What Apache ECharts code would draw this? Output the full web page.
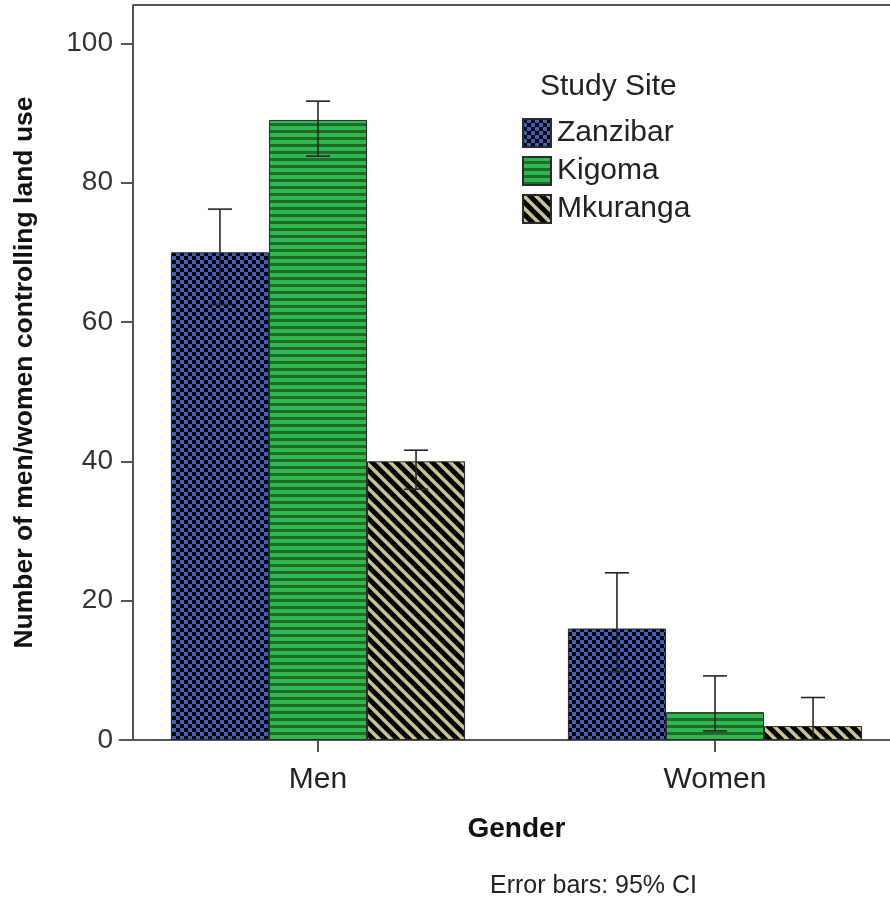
<!DOCTYPE html>
<html>
<head>
<meta charset="utf-8">
<title>Land use control by gender and study site</title>
<script src="https://cdn.jsdelivr.net/npm/echarts@6/dist/echarts.min.js"></script>
<style>
  html, body { margin: 0; padding: 0; background: #fff; }
  #chart { width: 890px; height: 898px; }
</style>
</head>
<body>
<div id="chart"></div>
<script>
// Categories and series
const genders = ['Men', 'Women'];
const sites = ['Zanzibar', 'Kigoma', 'Mkuranga'];

// Bar heights per site (Men, Women)
const zanzibarValues = [70, 16];
const kigomaValues = [89, 4];
const mkurangaValues = [40, 2];

// 95% confidence intervals per site: [low, high] for Men, Women
const zanzibarCI = [[62.5, 76.2], [9.8, 24.0]];
const kigomaCI = [[83.8, 91.7], [1.3, 9.2]];
const mkurangaCI = [[36.0, 41.6], [-2.0, 6.1]];

// Y axis ticks
const yTicks = [0, 20, 40, 60, 80, 100];

// ---- Fill patterns ----
function makeCanvas(w, h) {
  const c = document.createElement('canvas');
  c.width = w; c.height = h;
  return c;
}
function checkerPattern() {
  const c = makeCanvas(8, 8), g = c.getContext('2d');
  g.fillStyle = '#000'; g.fillRect(0, 0, 8, 8);
  g.fillStyle = '#3f5fbd';
  g.fillRect(4, 0, 4, 4);
  g.fillRect(0, 4, 4, 4);
  return c;
}
function stripePattern() {
  const c = makeCanvas(7, 7), g = c.getContext('2d');
  g.fillStyle = '#1e6a2f'; g.fillRect(0, 0, 7, 7);
  g.fillStyle = '#2fb84c'; g.fillRect(0, 0, 7, 4);
  return c;
}
function diagonalPattern() {
  const s = 12;
  const c = makeCanvas(s, s), g = c.getContext('2d');
  g.fillStyle = '#000'; g.fillRect(0, 0, s, s);
  g.strokeStyle = '#cbc48d';
  g.lineWidth = 3.5;
  for (let k = -1; k <= 1; k++) {
    g.beginPath();
    g.moveTo(k * s - 2, -2);
    g.lineTo(k * s + s + 2, s + 2);
    g.stroke();
  }
  return c;
}
const fills = [
  { image: checkerPattern(), repeat: 'repeat' },
  { image: stripePattern(), repeat: 'repeat' },
  { image: diagonalPattern(), repeat: 'repeat' }
];

const values = [zanzibarValues, kigomaValues, mkurangaValues];
const cis = [zanzibarCI, kigomaCI, mkurangaCI];

// Each bar takes this share of a category band; bars touch each other
const barShare = 0.247;

const fontFamily = '"Liberation Sans", Arial, sans-serif';

const barSeries = sites.map((name, i) => ({
  name: name,
  type: 'bar',
  barWidth: (barShare * 100) + '%',
  barGap: '0%',
  itemStyle: { color: fills[i], borderColor: '#2a2a2a', borderWidth: 1 },
  emphasis: { disabled: true },
  data: values[i],
  z: 2
}));

// Error bars drawn on top of the bars, shifted to each bar's centre
const errorSeries = sites.map((name, i) => ({
  type: 'custom',
  name: name + ' CI',
  clip: true,
  z: 5,
  silent: true,
  data: cis[i].map((ci, j) => [j, ci[0], ci[1]]),
  renderItem: function (params, api) {
    const band = api.size([1, 0])[0];
    const dx = (i - 1) * band * barShare;
    const lo = api.coord([api.value(0), api.value(1)]);
    const hi = api.coord([api.value(0), api.value(2)]);
    const x = lo[0] + dx;
    const cap = 12;
    const style = { stroke: '#262626', lineWidth: 1.6 };
    return {
      type: 'group',
      children: [
        { type: 'line', shape: { x1: x, y1: lo[1], x2: x, y2: hi[1] }, style: style },
        { type: 'line', shape: { x1: x - cap, y1: hi[1], x2: x + cap, y2: hi[1] }, style: style },
        { type: 'line', shape: { x1: x - cap, y1: lo[1], x2: x + cap, y2: lo[1] }, style: style }
      ]
    };
  }
}));

const chart = echarts.init(document.getElementById('chart'), null, { renderer: 'canvas' });

chart.setOption({
  animation: false,
  backgroundColor: '#ffffff',
  textStyle: { fontFamily: fontFamily },
  title: [
    {
      text: 'Study Site',
      left: 535, top: 67,
      textStyle: { fontSize: 30, fontWeight: 'normal', color: '#222', fontFamily: fontFamily }
    },
    {
      text: 'Error bars: 95% CI',
      left: 485, top: 869,
      textStyle: { fontSize: 25, fontWeight: 'normal', color: '#222', fontFamily: fontFamily }
    }
  ],
  legend: {
    data: sites,
    orient: 'vertical',
    left: 517, top: 113,
    itemWidth: 28, itemHeight: 28, itemGap: 8,
    icon: 'rect',
    selectedMode: false,
    textStyle: { fontSize: 30, lineHeight: 28, color: '#222', fontFamily: fontFamily, padding: [0, 0, 0, 1] }
  },
  grid: { left: 119.5, width: 794, top: 5, bottom: 158, containLabel: false, outerBoundsMode: 'none' },
  xAxis: {
    type: 'category',
    data: genders,
    name: 'Gender',
    nameLocation: 'middle',
    nameGap: 75,
    nameTextStyle: { fontSize: 28, fontWeight: 'bold', color: '#111', fontFamily: fontFamily },
    axisLine: { show: true, lineStyle: { color: '#555', width: 2 } },
    axisTick: { show: true, alignWithLabel: true, interval: 0, length: 12, lineStyle: { color: '#555', width: 2 } },
    axisLabel: { fontSize: 30, color: '#222', margin: 25, fontFamily: fontFamily },
    splitLine: { show: false }
  },
  yAxis: {
    type: 'value',
    min: 0,
    max: 105.5,
    interval: 20,
    offset: -13.5,
    name: 'Number of men/women controlling land use',
    nameLocation: 'middle',
    nameGap: 95,
    nameTextStyle: { fontSize: 26.5, fontWeight: 'bold', color: '#111', fontFamily: fontFamily },
    axisLine: { show: true, lineStyle: { color: '#555', width: 2 } },
    axisTick: { show: true, length: 12, customValues: yTicks, lineStyle: { color: '#555', width: 2 } },
    axisLabel: {
      fontSize: 28, color: '#333', margin: 20, fontFamily: fontFamily,
      customValues: yTicks
    },
    splitLine: { show: false }
  },
  graphic: [
    // top edge of the plot frame
    {
      type: 'line',
      shape: { x1: 133, y1: 5, x2: 890, y2: 5 },
      style: { stroke: '#555', lineWidth: 2 },
      silent: true
    }
  ],
  series: barSeries.concat(errorSeries)
});
</script>
</body>
</html>
